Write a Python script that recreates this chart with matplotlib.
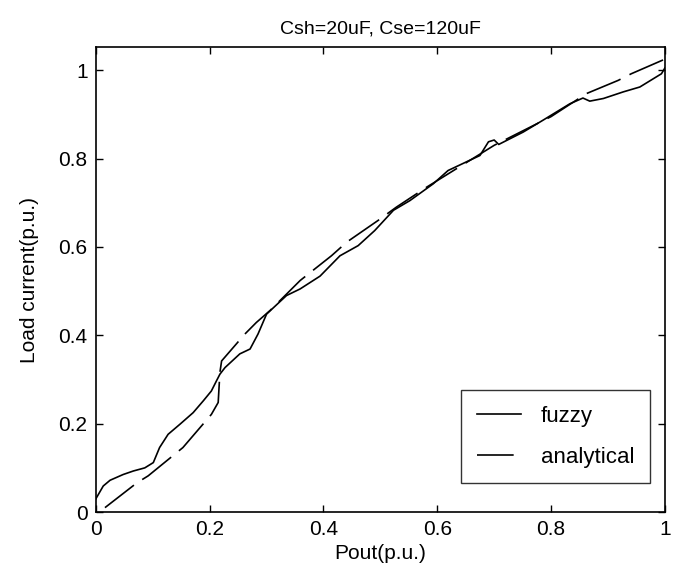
import matplotlib
matplotlib.use("Agg")
import matplotlib.pyplot as plt

plt.rcParams["font.family"] = ["Liberation Sans", "DejaVu Sans"]

# fuzzy controller result (solid)
fuzzy_x = [0.000, 0.013, 0.025, 0.048, 0.066, 0.086, 0.101, 0.112, 0.127, 0.148,
           0.171, 0.189, 0.203, 0.212, 0.218, 0.227, 0.253, 0.271, 0.285, 0.300,
           0.335, 0.359, 0.394, 0.429, 0.461, 0.490, 0.523, 0.552, 0.593, 0.619,
           0.675, 0.690, 0.700, 0.708, 0.751, 0.786, 0.833, 0.856, 0.868, 0.892,
           0.927, 0.956, 0.994, 1.000]
fuzzy_y = [0.030, 0.059, 0.072, 0.085, 0.093, 0.100, 0.112, 0.146, 0.176, 0.199,
           0.225, 0.252, 0.274, 0.297, 0.312, 0.327, 0.358, 0.369, 0.403, 0.448,
           0.490, 0.505, 0.534, 0.580, 0.603, 0.637, 0.683, 0.705, 0.743, 0.773,
           0.807, 0.838, 0.842, 0.832, 0.860, 0.887, 0.924, 0.937, 0.930, 0.936,
           0.951, 0.962, 0.992, 1.005]

# analytical result (dashed)
anal_x = [0.016, 0.072, 0.092, 0.153, 0.203, 0.215, 0.218, 0.221, 0.262, 0.282,
          0.306, 0.359, 0.414, 0.441, 0.496, 0.528, 0.581, 0.700, 0.800, 0.862,
          0.918, 0.941, 1.000]
anal_y = [0.010, 0.066, 0.082, 0.146, 0.221, 0.248, 0.316, 0.342, 0.403, 0.429,
          0.456, 0.524, 0.580, 0.611, 0.660, 0.690, 0.735, 0.830, 0.895, 0.947,
          0.977, 0.992, 1.025]

xticks = [0, 0.2, 0.4, 0.6, 0.8, 1]
yticks = [0, 0.2, 0.4, 0.6, 0.8, 1]
xtick_labels = ["0", "0.2", "0.4", "0.6", "0.8", "1"]
ytick_labels = ["0", "0.2", "0.4", "0.6", "0.8", "1"]

fig = plt.figure(figsize=(6.75, 5.76), dpi=100)
ax = fig.add_axes([0.142, 0.111, 0.843, 0.807])

ax.plot(fuzzy_x, fuzzy_y, color="black", lw=1.2, label="fuzzy")
ax.plot(anal_x, anal_y, color="black", lw=1.2, dashes=(22, 6), label="analytical")

ax.set_xlim(0, 1)
ax.set_ylim(0, 1.052)
ax.set_xticks(xticks, xtick_labels)
ax.set_yticks(yticks, ytick_labels)
ax.tick_params(direction="in", top=True, right=True, length=5, width=1,
               labelsize=15, pad=6)
for s in ax.spines.values():
    s.set_linewidth(1.2)

ax.set_xlabel("Pout(p.u.)", fontsize=15, labelpad=3)
ax.set_ylabel("Load current(p.u.)", fontsize=15, labelpad=14)
ax.set_title("Csh=20uF, Cse=120uF", fontsize=14, pad=10)

leg = ax.legend(loc="lower right", bbox_to_anchor=(0.974, 0.062), fontsize=16,
                frameon=True, fancybox=False, edgecolor="black",
                handlelength=2.0, handletextpad=0.9, labelspacing=0.9,
                borderpad=0.7, borderaxespad=0)
leg.get_frame().set_linewidth(1.0)

fig.savefig("out.png", dpi=100)
